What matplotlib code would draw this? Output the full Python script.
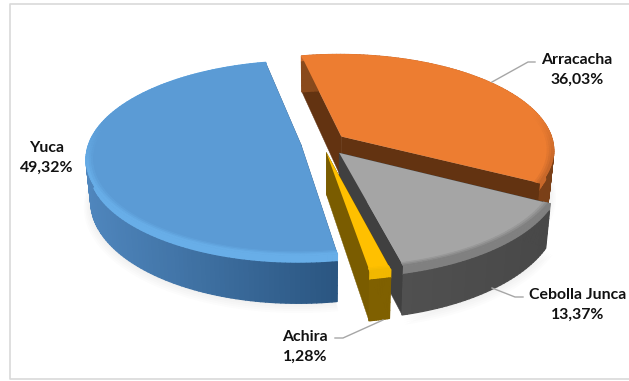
import numpy as np
import matplotlib
matplotlib.use("Agg")
import matplotlib.pyplot as plt
from matplotlib.collections import PolyCollection
from matplotlib.colors import to_rgb

# data, in drawing order round the pie (counter clockwise)
categories = ["Yuca", "Achira", "Cebolla Junca", "Arracacha"]
values = [49.32, 1.28, 13.37, 36.03]

# look of each slice
explode = [0.10, 0.10, 0.13, 0.115]
radius = [1.0, 1.06, 1.03, 1.0]
top_colors = ["#5b9bd5", "#ffc000", "#a5a5a5", "#ed7d31"]
rim_colors = ["#68aee8", "#f2b800", "#808080", "#c8682a"]
wall_left = ["#4f86bd", "#7f6000", "#505050", "#8a4a1c"]
wall_right = ["#2a5580", "#7f6000", "#484848", "#7a4018"]
inner_colors = ["#2f5f8f", "#7a5c00", "#404040", "#633311"]
draw_order = [3, 0, 2, 1]

start_angle = 101.7
cx, cy = 322.0, 143.0
a, b = 212.0, 95.0
k = 0.138
depth = 41.0


def project(u, v, z=0.0):
    s = 1.0 / (1.0 + k * v)
    x = cx + a * u * s * (1 - 0.02 * z)
    y = cy - b * v * s + depth * z * s
    return np.column_stack([x, y])


def mix(c1, c2, w):
    c1, c2 = np.array(to_rgb(c1)), np.array(to_rgb(c2))
    return tuple(c1 + (c2 - c1) * w)


fig = plt.figure(figsize=(6.29, 3.81), dpi=100)
ax = fig.add_axes([0, 0, 1, 1])
ax.set_xlim(0, 629)
ax.set_ylim(381, 0)
ax.axis("off")

# frame of the chart (no line on the right side)
ax.plot([629, 10, 10, 629], [4, 4, 379, 379], color="#d9d9d9", lw=1.2)

angles = start_angle + np.cumsum([0] + [v * 3.6 for v in values])


def slice_geometry(i):
    t = np.radians(np.linspace(angles[i], angles[i + 1], max(int(values[i] * 3), 12)))
    mid = np.radians((angles[i] + angles[i + 1]) / 2)
    return t, explode[i] * np.cos(mid), explode[i] * np.sin(mid)


# soft shadow under the pie
for i in range(4):
    t, ox, oy = slice_geometry(i)
    for grow in np.linspace(0.0, 0.035, 6):
        rr = radius[i] + grow
        pts = project(rr * np.cos(t) + ox, rr * np.sin(t) + oy, 1.0 + grow * 3)
        ax.fill(pts[:, 0], pts[:, 1], color="#000000", alpha=0.012, lw=0)

for i in draw_order:
    t, ox, oy = slice_geometry(i)
    r = radius[i]
    u, v = r * np.cos(t) + ox, r * np.sin(t) + oy

    # the two cut faces
    for tt in (t[0], t[-1]):
        e = (r * np.cos(tt) + ox, r * np.sin(tt) + oy)
        quad = np.vstack([project(np.array([ox]), np.array([oy]), 0.0),
                          project(np.array([e[0]]), np.array([e[1]]), 0.0),
                          project(np.array([e[0]]), np.array([e[1]]), 1.0),
                          project(np.array([ox]), np.array([oy]), 1.0)])
        ax.fill(quad[:, 0], quad[:, 1], color=inner_colors[i], lw=0.3)

    # outer wall, light fades off going down
    x_all = project(u, v)[:, 0]
    rows = np.linspace(0, 1, 7)
    for z0, z1 in zip(rows[:-1], rows[1:]):
        quads, cols = [], []
        for j in range(len(t) - 1):
            w = (x_all[j] - x_all.min()) / max(np.ptp(x_all), 1)
            base = mix(wall_left[i], wall_right[i], w)
            p0 = project(u[j:j + 2], v[j:j + 2], z0)
            p1 = project(u[j:j + 2], v[j:j + 2], z1)
            quads.append(np.vstack([p0, p1[::-1]]))
            cols.append(mix(rim_colors[i], base, min(z0 / 0.16, 1)))
        ax.add_collection(PolyCollection(quads, facecolors=cols, edgecolors=cols, linewidths=1.0))

    # top face
    top = np.vstack([project(np.array([ox]), np.array([oy])), project(u, v)])
    ax.fill(top[:, 0], top[:, 1], color=top_colors[i], lw=0)

    # bevel along the front rim
    rings = np.linspace(0.97, 1.0, 4)
    for n, (r0, r1) in enumerate(zip(rings[:-1], rings[1:])):
        quads, cols = [], []
        for j in range(len(t) - 1):
            front = np.clip((0.25 - np.sin(t[j])) / 0.5, 0, 1)
            tj = t[j:j + 2]
            p0 = project(r * r0 * np.cos(tj) + ox, r * r0 * np.sin(tj) + oy)
            p1 = project(r * r1 * np.cos(tj) + ox, r * r1 * np.sin(tj) + oy)
            quads.append(np.vstack([p0, p1[::-1]]))
            cols.append(mix(top_colors[i], rim_colors[i], front * (n + 1) / 3))
        ax.add_collection(PolyCollection(quads, facecolors=cols, edgecolors=cols, linewidths=0.6))

# leader lines
leader = "#a6a6a6"
ax.plot([492, 528, 535], [82, 62, 62], color=leader, lw=1)
ax.plot([492, 515, 523], [288, 297, 297], color=leader, lw=1)
ax.plot([383, 343, 335], [320, 338, 338], color=leader, lw=1)

# labels
label_pos = [(47, 158), (305, 347), (578, 305), (577, 70)]
for name, val, (lx, ly) in zip(categories, values, label_pos):
    txt = name + "\n" + f"{val:.2f}".replace(".", ",") + "%"
    ax.text(lx, ly, txt, ha="center", va="center", family="Lato", weight="bold",
            fontsize=11.4, color="#111111", linespacing=1.5)

fig.savefig("out.png", dpi=100)
